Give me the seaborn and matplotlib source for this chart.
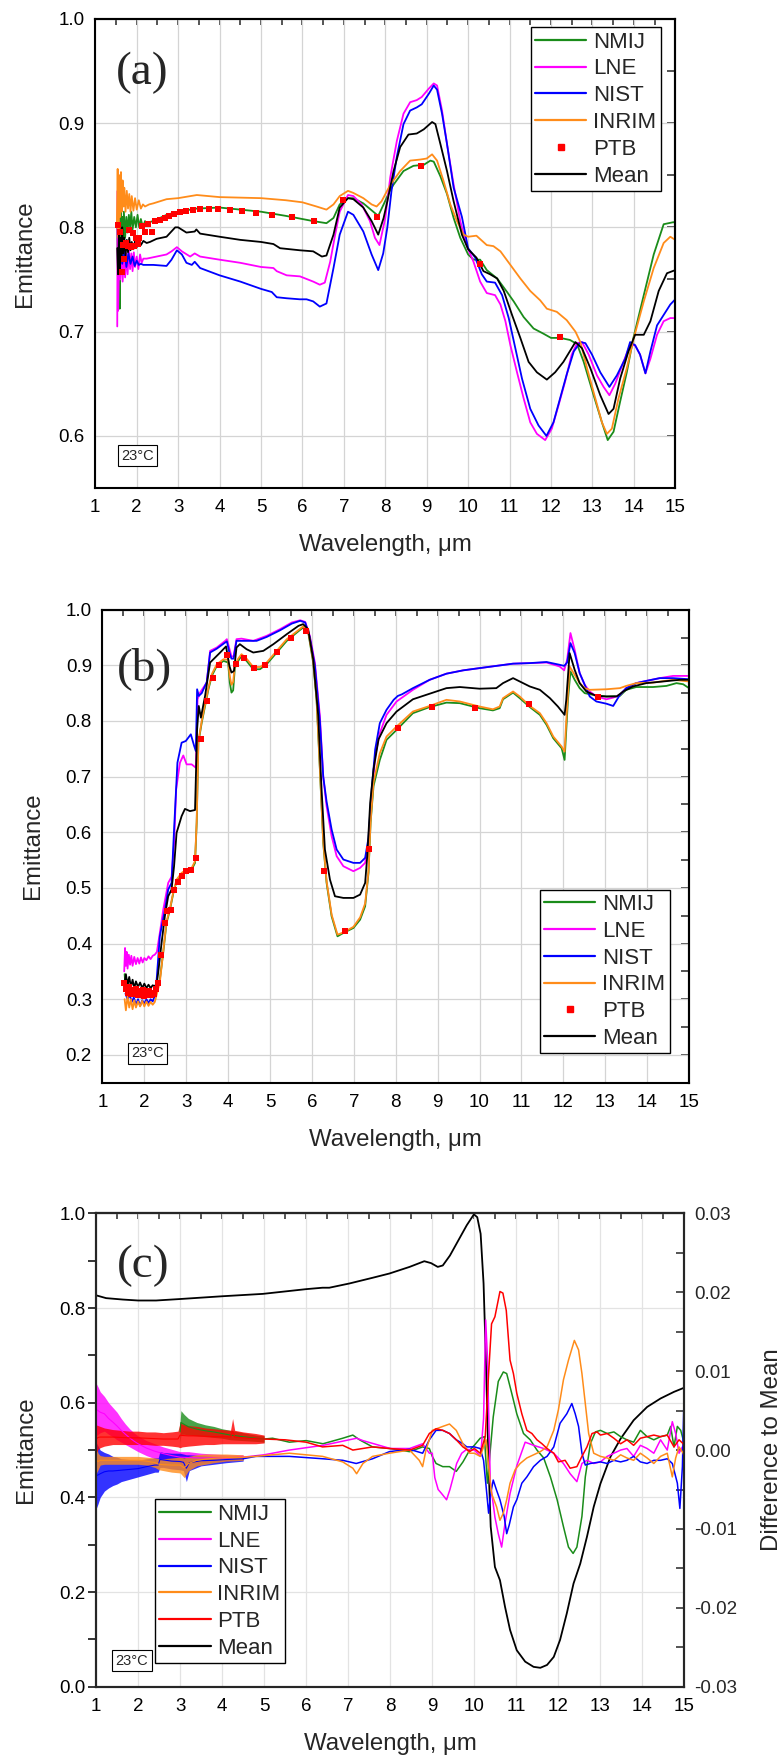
import numpy as np
import matplotlib
matplotlib.use('Agg')
import matplotlib.pyplot as plt
from matplotlib.ticker import MultipleLocator, FormatStrFormatter
from matplotlib.lines import Line2D
import seaborn as sns

sns.set_style('white')
plt.rcParams['font.family'] = ['Liberation Sans', 'DejaVu Sans']
plt.rcParams['axes.unicode_minus'] = False

SERIES = ['NMIJ', 'LNE', 'NIST', 'INRIM', 'PTB', 'Mean']
COLORS = {'NMIJ': '#1a8c1a', 'LNE': '#ff00ff', 'NIST': '#0000ff',
          'INRIM': '#ff8c1a', 'PTB': '#ff0000', 'Mean': '#000000'}
TEMP_LABEL = '23°C'
X_LABEL = 'Wavelength, μm'
Y_LABEL = 'Emittance'
Y2_LABEL = 'Difference to Mean'

# ---------------- Panel (a) ----------------
A_NMIJ_X = [1.53,1.55,1.57,1.59,1.61,1.63,1.65,1.67,1.69,1.72,1.75,1.78,1.81,1.84,1.87,1.90,1.94,1.98,2.02,2.06,2.10,2.15,2.20,2.25,2.30,2.40,
            2.72,3.00,3.45,4.00,4.50,5.00,5.60,6.26,6.58,6.75,6.90,7.10,7.23,7.47,7.71,7.83,7.96,8.11,8.20,8.44,8.68,8.93,9.09,9.17,9.33,9.49,9.65,9.81,10.00,10.13,
            10.29,10.45,10.70,10.94,11.10,11.34,11.58,11.82,12.00,12.22,12.46,12.63,12.79,13.03,13.23,13.37,13.51,13.67,13.83,13.99,14.24,14.48,14.72,14.96,15.00]
A_NMIJ_Y = [0.800,0.740,0.810,0.722,0.820,0.770,0.810,0.780,0.815,0.790,0.810,0.795,0.812,0.800,0.815,0.798,0.810,0.800,0.812,0.800,0.808,0.800,0.806,0.803,0.805,0.806,
            0.812,0.815,0.818,0.819,0.817,0.815,0.811,0.806,0.804,0.809,0.822,0.828,0.828,0.823,0.815,0.811,0.822,0.835,0.841,0.854,0.859,0.860,0.864,0.863,0.849,0.832,0.809,0.790,0.774,0.769,
            0.769,0.759,0.751,0.738,0.729,0.714,0.703,0.698,0.694,0.694,0.692,0.688,0.671,0.639,0.613,0.596,0.604,0.633,0.661,0.694,0.735,0.774,0.803,0.805,0.804]

A_INRIM_X = [1.52,1.54,1.56,1.58,1.60,1.62,1.64,1.66,1.68,1.70,1.73,1.76,1.79,1.82,1.85,1.88,1.92,1.96,2.00,2.05,2.10,2.15,2.20,2.30,2.40,
             2.72,3.00,3.45,4.00,5.00,5.60,6.00,6.34,6.58,6.75,6.90,7.10,7.23,7.47,7.67,7.79,7.91,8.11,8.36,8.60,8.84,9.00,9.13,9.25,9.41,9.57,9.73,9.89,10.00,
             10.20,10.45,10.61,10.78,11.02,11.26,11.50,11.74,11.90,12.14,12.38,12.59,12.71,12.87,13.07,13.23,13.35,13.47,13.63,13.83,14.00,14.24,14.48,14.72,14.88,15.00]
A_INRIM_Y = [0.800,0.856,0.790,0.850,0.810,0.853,0.815,0.845,0.820,0.838,0.815,0.835,0.818,0.832,0.815,0.830,0.816,0.828,0.817,0.826,0.818,0.822,0.820,0.822,0.823,
             0.827,0.828,0.831,0.829,0.828,0.826,0.824,0.820,0.817,0.822,0.830,0.835,0.833,0.828,0.822,0.820,0.825,0.840,0.854,0.864,0.865,0.866,0.870,0.864,0.844,0.822,0.806,0.793,0.791,
             0.792,0.783,0.782,0.777,0.764,0.751,0.739,0.730,0.722,0.719,0.711,0.700,0.690,0.665,0.636,0.613,0.602,0.607,0.636,0.665,0.694,0.729,0.761,0.785,0.791,0.788]

A_LNE_X = [1.53,1.54,1.55,1.57,1.60,1.63,1.66,1.69,1.72,1.75,1.78,1.81,1.84,1.87,1.90,1.93,1.96,2.00,2.04,2.08,2.12,2.16,2.24,
           2.48,2.72,2.84,2.97,3.09,3.29,3.40,3.53,4.00,4.50,5.00,5.30,5.38,5.62,5.94,6.26,6.42,6.54,6.67,6.79,6.90,7.10,7.23,7.43,7.63,7.75,7.86,8.00,8.12,8.28,
           8.44,8.60,8.76,8.88,9.05,9.17,9.25,9.37,9.49,9.65,9.81,9.97,10.13,10.29,10.45,10.65,10.78,10.90,11.02,11.18,11.34,11.50,11.66,11.86,12.02,12.18,12.34,
           12.50,12.63,12.75,12.91,13.11,13.27,13.41,13.55,13.75,13.91,14.03,14.15,14.28,14.40,14.56,14.72,14.88,15.00]
A_LNE_Y = [0.705,0.835,0.720,0.760,0.750,0.775,0.748,0.772,0.752,0.775,0.755,0.778,0.760,0.775,0.758,0.776,0.762,0.772,0.760,0.774,0.766,0.770,0.770,
           0.772,0.774,0.777,0.781,0.777,0.772,0.775,0.772,0.769,0.766,0.762,0.761,0.758,0.754,0.753,0.748,0.745,0.747,0.767,0.793,0.815,0.831,0.830,0.822,0.806,0.790,0.783,0.809,0.848,0.883,
           0.909,0.920,0.922,0.925,0.933,0.938,0.936,0.912,0.880,0.841,0.806,0.782,0.767,0.748,0.737,0.735,0.726,0.710,0.687,0.661,0.636,0.613,0.602,0.596,0.607,0.629,0.652,
           0.678,0.689,0.690,0.678,0.658,0.647,0.639,0.650,0.671,0.687,0.687,0.678,0.660,0.674,0.697,0.710,0.713,0.713]

A_NIST_X = [1.55,1.60,1.65,1.70,1.75,1.80,1.85,1.90,1.95,2.00,2.05,2.10,
            2.16,2.40,2.72,2.84,2.97,3.09,3.20,3.33,3.40,3.53,4.00,4.50,5.00,5.26,5.38,5.62,5.94,6.10,6.26,6.42,6.58,6.75,6.90,7.10,7.23,7.47,7.67,7.83,7.95,
            8.05,8.15,8.28,8.44,8.60,8.76,8.88,9.05,9.17,9.25,9.37,9.49,9.65,9.85,10.00,10.17,10.33,10.45,10.65,10.82,10.98,11.14,11.30,11.50,11.70,11.89,
            12.06,12.22,12.38,12.55,12.71,12.83,12.99,13.19,13.41,13.59,13.79,13.91,14.03,14.15,14.28,14.40,14.56,14.72,14.88,15.00]
A_NIST_Y = [0.770,0.785,0.765,0.780,0.762,0.775,0.765,0.772,0.763,0.768,0.764,0.765,
            0.764,0.764,0.763,0.769,0.778,0.774,0.766,0.764,0.767,0.761,0.754,0.748,0.741,0.738,0.733,0.732,0.731,0.731,0.729,0.724,0.727,0.761,0.793,0.815,0.812,0.796,0.774,0.759,0.775,
            0.800,0.835,0.868,0.899,0.912,0.915,0.918,0.928,0.936,0.932,0.909,0.880,0.838,0.810,0.780,0.771,0.755,0.748,0.747,0.735,0.713,0.684,0.655,0.626,0.610,0.600,
            0.613,0.636,0.659,0.681,0.690,0.689,0.678,0.661,0.647,0.658,0.674,0.690,0.687,0.678,0.660,0.681,0.706,0.716,0.726,0.731]

A_MEAN_X = [1.53,1.55,1.57,1.59,1.61,1.63,1.65,1.67,1.70,1.73,1.76,1.79,1.82,1.85,1.88,1.92,1.96,2.00,2.05,2.10,2.16,2.24,2.32,
            2.48,2.72,2.93,3.00,3.20,3.40,3.44,3.53,4.00,4.50,5.00,5.30,5.46,5.94,6.26,6.47,6.58,6.75,6.90,7.10,7.23,7.47,7.67,7.83,7.96,8.05,8.20,8.36,8.56,8.76,
            8.93,9.13,9.21,9.33,9.49,9.65,9.85,10.00,10.20,10.37,10.53,10.70,10.86,11.06,11.26,11.46,11.66,11.90,12.10,12.30,12.59,12.75,12.95,13.19,13.39,13.51,
            13.67,13.87,14.03,14.24,14.40,14.60,14.80,15.00]
A_MEAN_Y = [0.780,0.755,0.795,0.760,0.790,0.770,0.800,0.775,0.790,0.772,0.788,0.776,0.790,0.778,0.786,0.779,0.787,0.781,0.786,0.783,0.787,0.785,0.786,
            0.789,0.791,0.800,0.800,0.795,0.796,0.798,0.794,0.791,0.788,0.786,0.784,0.780,0.778,0.777,0.772,0.773,0.793,0.819,0.828,0.827,0.819,0.806,0.793,0.809,0.825,0.854,0.877,0.889,0.890,
            0.894,0.901,0.899,0.880,0.854,0.825,0.793,0.779,0.771,0.758,0.755,0.751,0.739,0.716,0.694,0.671,0.661,0.654,0.661,0.671,0.690,0.684,0.665,0.639,0.621,0.626,
            0.655,0.681,0.697,0.697,0.710,0.739,0.756,0.759]

A_PTB_X = [1.56,1.60,1.64,1.67,1.70,1.74,1.78,1.82,1.86,1.90,1.94,1.98,2.02,2.06,2.12,2.20,2.28,2.36,2.44,2.56,2.68,2.78,2.90,3.05,3.19,3.35,3.53,3.74,3.97,
           4.24,4.53,4.87,5.26,5.74,6.29,6.97,7.79,8.86,10.28,12.22]
A_PTB_Y = [0.802,0.796,0.757,0.783,0.770,0.785,0.782,0.797,0.781,0.795,0.782,0.790,0.784,0.790,0.801,0.796,0.803,0.796,0.806,0.807,0.809,0.811,0.813,0.815,0.816,0.817,0.818,0.818,0.818,
           0.817,0.816,0.814,0.812,0.810,0.806,0.826,0.810,0.859,0.765,0.695]

# ---------------- Panel (b) ----------------
B_LNE_X = [1.52,1.54,1.56,1.58,1.60,1.63,1.66,1.69,1.72,1.76,1.80,1.84,1.88,1.92,1.96,2.00,2.05,2.10,2.15,2.20,2.25,2.30,
           2.37,2.45,2.57,2.65,2.71,2.76,2.85,2.93,3.01,3.13,3.23,3.27,3.33,3.49,3.57,3.73,3.93,3.97,4.03,4.08,4.13,4.20,4.32,4.60,4.92,5.24,5.52,5.72,5.84,5.95,
           6.07,6.19,6.27,6.35,6.47,6.59,6.75,6.99,7.15,7.27,7.35,7.43,7.51,7.62,7.78,8.02,8.41,8.81,9.21,9.61,10.00,10.40,10.80,11.20,11.60,11.91,12.02,12.09,
           12.17,12.27,12.39,12.51,12.63,12.79,13.03,13.19,13.35,13.50,13.74,13.98,14.30,14.62,15.00]
B_LNE_Y = [0.350,0.392,0.360,0.385,0.355,0.380,0.362,0.378,0.360,0.376,0.363,0.374,0.364,0.375,0.366,0.374,0.370,0.377,0.372,0.378,0.380,0.385,
           0.419,0.460,0.509,0.520,0.580,0.677,0.725,0.738,0.722,0.722,0.716,0.839,0.851,0.869,0.926,0.932,0.944,0.947,0.930,0.916,0.916,0.947,0.948,0.944,0.953,0.965,0.977,0.981,0.978,0.953,
           0.905,0.809,0.700,0.647,0.593,0.557,0.539,0.530,0.536,0.545,0.581,0.665,0.737,0.778,0.811,0.835,0.856,0.874,0.885,0.891,0.895,0.899,0.903,0.904,0.905,0.898,0.891,0.910,
           0.958,0.928,0.886,0.865,0.853,0.844,0.839,0.842,0.847,0.859,0.868,0.872,0.877,0.881,0.881]

B_NIST_X = [1.55,1.60,1.65,1.70,1.75,1.80,1.85,1.90,1.95,2.00,2.05,2.10,2.15,2.20,2.27,
            2.37,2.49,2.57,2.65,2.71,2.79,2.89,2.99,3.05,3.11,3.19,3.23,3.26,3.30,3.37,3.49,3.57,3.73,3.93,3.97,4.03,4.08,4.13,4.20,4.44,4.68,4.92,5.24,5.52,
            5.72,5.84,5.95,6.07,6.19,6.27,6.35,6.47,6.59,6.75,6.99,7.15,7.27,7.35,7.43,7.51,7.62,7.78,7.95,8.05,8.15,8.41,8.81,9.21,9.61,10.00,10.40,10.80,11.20,
            11.60,11.91,12.02,12.09,12.17,12.27,12.39,12.51,12.63,12.79,13.03,13.19,13.35,13.50,13.74,13.98,14.30,14.62,15.00]
B_NIST_Y = [0.310,0.300,0.308,0.295,0.303,0.290,0.300,0.288,0.298,0.292,0.300,0.293,0.300,0.296,0.310,
            0.413,0.460,0.497,0.509,0.605,0.725,0.761,0.764,0.770,0.776,0.755,0.746,0.857,0.845,0.850,0.870,0.923,0.930,0.941,0.943,0.923,0.912,0.912,0.944,0.944,0.944,0.951,0.963,0.975,
            0.980,0.977,0.950,0.900,0.800,0.700,0.655,0.605,0.569,0.551,0.545,0.545,0.554,0.590,0.680,0.749,0.796,0.820,0.838,0.845,0.848,0.859,0.874,0.885,0.891,0.895,0.899,0.903,0.904,
            0.906,0.901,0.899,0.905,0.940,0.922,0.886,0.865,0.844,0.835,0.831,0.827,0.847,0.859,0.868,0.872,0.877,0.877,0.875]

B_MEAN_X = [1.53,1.56,1.60,1.64,1.68,1.72,1.76,1.80,1.85,1.90,1.95,2.00,2.05,2.10,2.15,2.20,2.25,2.30,
            2.33,2.41,2.49,2.57,2.65,2.71,2.77,2.89,2.97,3.09,3.21,3.26,3.30,3.35,3.45,3.57,3.69,3.81,3.95,4.03,4.08,4.14,4.20,4.28,4.44,4.60,4.84,5.08,5.40,
            5.68,5.79,5.91,6.03,6.15,6.23,6.31,6.43,6.55,6.75,6.99,7.15,7.27,7.32,7.39,7.47,7.59,7.78,8.02,8.18,8.41,8.81,9.21,9.53,10.00,10.40,10.56,10.80,
            10.96,11.20,11.44,11.68,11.87,12.03,12.07,12.15,12.27,12.39,12.55,12.79,13.03,13.27,13.43,13.66,13.98,14.38,14.78,15.00]
B_MEAN_Y = [0.330,0.345,0.325,0.340,0.322,0.335,0.320,0.332,0.322,0.330,0.320,0.328,0.320,0.326,0.320,0.325,0.323,0.330,
            0.347,0.400,0.449,0.485,0.497,0.539,0.599,0.629,0.642,0.638,0.640,0.785,0.827,0.806,0.845,0.905,0.914,0.923,0.934,0.899,0.887,0.890,0.932,0.938,0.929,0.923,0.926,0.938,0.956,
            0.971,0.974,0.965,0.911,0.810,0.677,0.569,0.515,0.485,0.482,0.482,0.488,0.509,0.557,0.653,0.713,0.767,0.796,0.817,0.826,0.839,0.849,0.859,0.861,0.858,0.859,0.868,0.877,
            0.871,0.862,0.856,0.841,0.826,0.811,0.838,0.922,0.892,0.868,0.853,0.845,0.844,0.844,0.853,0.862,0.868,0.871,0.874,0.874]

B_NMIJ_X = [1.53,1.56,1.60,1.64,1.68,1.72,1.76,1.80,1.85,1.90,1.95,2.00,2.05,2.10,2.15,2.20,2.25,2.30,
            2.37,2.45,2.53,2.61,2.69,2.77,2.89,3.01,3.13,3.21,3.25,3.29,3.37,3.45,3.53,3.61,3.73,3.89,4.00,4.04,4.08,4.12,4.16,4.24,4.32,4.44,4.60,4.76,4.92,
            5.16,5.40,5.64,5.79,5.91,6.03,6.11,6.19,6.27,6.35,6.47,6.61,6.75,6.99,7.15,7.27,7.35,7.40,7.47,7.62,7.78,8.02,8.41,8.81,9.21,9.53,10.00,10.32,10.48,
            10.56,10.80,10.96,11.20,11.44,11.60,11.76,11.96,12.03,12.11,12.17,12.27,12.39,12.51,12.71,13.03,13.35,13.50,13.74,14.14,14.46,14.70,14.86,15.00]
B_NMIJ_Y = [0.345,0.315,0.335,0.310,0.325,0.305,0.318,0.305,0.315,0.303,0.312,0.305,0.313,0.305,0.310,0.307,0.312,0.320,
            0.335,0.383,0.437,0.460,0.490,0.512,0.524,0.530,0.533,0.545,0.617,0.761,0.797,0.827,0.857,0.881,0.899,0.908,0.905,0.869,0.851,0.855,0.895,0.908,0.917,0.908,0.893,0.893,0.902,
            0.923,0.944,0.959,0.968,0.960,0.905,0.839,0.713,0.581,0.509,0.449,0.413,0.419,0.428,0.443,0.467,0.527,0.617,0.683,0.730,0.766,0.784,0.814,0.825,0.833,0.832,0.823,0.819,0.823,
            0.839,0.851,0.841,0.825,0.811,0.793,0.769,0.751,0.730,0.838,0.889,0.874,0.859,0.850,0.847,0.844,0.845,0.856,0.861,0.861,0.863,0.868,0.866,0.859]

B_INRIM_X = [1.53,1.56,1.60,1.64,1.68,1.72,1.76,1.80,1.85,1.90,1.95,2.00,2.05,2.10,2.15,2.20,2.25,2.30,
             2.37,2.45,2.53,2.61,2.69,2.77,2.89,3.01,3.13,3.21,3.25,3.29,3.37,3.45,3.53,3.61,3.73,3.89,4.00,4.04,4.08,4.12,4.16,4.24,4.32,4.44,4.60,4.76,4.92,
             5.16,5.40,5.64,5.79,5.91,6.03,6.11,6.19,6.27,6.35,6.47,6.61,6.75,6.99,7.15,7.27,7.35,7.40,7.47,7.62,7.78,8.02,8.41,8.81,9.21,9.53,10.00,10.32,10.48,
             10.56,10.80,10.96,11.20,11.44,11.60,11.76,11.96,12.03,12.07,12.15,12.27,12.39,12.51,12.63,13.03,13.35,13.50,13.74,14.14,14.62,15.00]
B_INRIM_Y = [0.300,0.280,0.305,0.285,0.300,0.282,0.298,0.285,0.296,0.287,0.297,0.287,0.296,0.288,0.295,0.290,0.295,0.310,
             0.330,0.385,0.440,0.462,0.492,0.515,0.527,0.533,0.536,0.548,0.620,0.763,0.800,0.830,0.860,0.884,0.902,0.911,0.910,0.880,0.865,0.870,0.900,0.912,0.920,0.912,0.897,0.897,0.905,
             0.926,0.947,0.961,0.970,0.962,0.908,0.842,0.716,0.584,0.512,0.452,0.416,0.420,0.430,0.447,0.472,0.530,0.620,0.690,0.742,0.772,0.790,0.817,0.827,0.838,0.835,0.826,0.821,0.826,
             0.841,0.853,0.844,0.827,0.814,0.796,0.772,0.754,0.745,0.800,0.898,0.883,0.868,0.859,0.856,0.857,0.859,0.863,0.868,0.869,0.874,0.871]

B_PTB_X = [1.52,1.56,1.60,1.64,1.68,1.72,1.76,1.80,1.84,1.88,1.92,1.96,2.00,2.04,2.08,2.12,2.16,2.20,2.24,2.28,2.32,
           2.41,2.49,2.55,2.63,2.71,2.81,2.89,2.99,3.11,3.23,3.35,3.50,3.65,3.79,3.98,4.18,4.38,4.62,4.87,5.16,5.49,5.85,6.29,6.79,7.37,8.06,8.87,9.90,11.18,12.83]
B_PTB_Y = [0.329,0.318,0.312,0.322,0.309,0.316,0.310,0.318,0.307,0.314,0.309,0.316,0.306,0.313,0.308,0.315,0.307,0.312,0.310,0.318,0.330,
           0.380,0.437,0.458,0.460,0.497,0.510,0.521,0.530,0.532,0.554,0.768,0.836,0.877,0.900,0.918,0.902,0.913,0.895,0.900,0.924,0.950,0.962,0.530,0.422,0.570,0.787,0.825,0.823,0.830,0.843]

# ---------------- Panel (c) ----------------
C_MEAN_X = [1.00,1.24,1.64,2.00,2.43,2.98,4.01,4.97,6.00,6.39,6.55,7.03,7.58,7.98,8.46,8.81,8.97,9.13,9.25,9.42,9.62,9.82,9.99,10.07,10.15,10.22,10.28,10.34,
            10.39,10.49,10.61,10.73,10.85,11.01,11.21,11.41,11.57,11.73,11.89,12.04,12.20,12.36,12.52,12.68,12.84,13.00,13.24,13.48,13.79,14.11,14.43,14.75,15.00]
C_MEAN_Y = [0.827,0.821,0.818,0.816,0.816,0.819,0.825,0.830,0.840,0.843,0.843,0.852,0.864,0.873,0.887,0.899,0.895,0.887,0.890,0.911,0.943,0.975,0.998,0.992,0.957,0.852,0.676,0.464,
            0.338,0.253,0.225,0.169,0.120,0.077,0.053,0.042,0.040,0.046,0.063,0.099,0.155,0.218,0.260,0.317,0.380,0.429,0.486,0.524,0.563,0.591,0.609,0.623,0.632]

# noisy short-wavelength parts of the difference curves: lower / upper edge of the noise band
C_NMIJ_BX = [3.00,3.02,3.10,3.20,3.40,3.60,3.80,4.00,4.20,4.50,4.80,5.00]
C_NMIJ_BHI = [0.0036,0.0050,0.0045,0.0040,0.0035,0.0032,0.0030,0.0027,0.0025,0.0022,0.0019,0.0018]
C_NMIJ_BLO = [0.0010,0.0020,0.0020,0.0019,0.0018,0.0017,0.0016,0.0015,0.0013,0.0012,0.0011,0.0010]

C_LNE_BX = [1.00,1.05,1.10,1.20,1.30,1.40,1.50,1.60,1.70,1.80,1.90,2.00,2.20,2.40,2.60,2.80,3.00,3.20,3.50,3.80,4.10,4.50]
C_LNE_BHI = [0.0085,0.0080,0.0074,0.0068,0.0060,0.0054,0.0048,0.0040,0.0033,0.0027,0.0022,0.0018,0.0012,0.0008,0.0004,0.0001,-0.0002,-0.0002,-0.0004,-0.0005,-0.0006,-0.0006]
C_LNE_BLO = [0.0018,0.0020,0.0022,0.0024,0.0020,0.0017,0.0013,0.0010,0.0007,0.0004,0.0001,-0.0002,-0.0007,-0.0011,-0.0013,-0.0015,-0.0016,-0.0017,-0.0016,-0.0015,-0.0014,-0.0012]

C_NIST_BX = [1.00,1.05,1.10,1.20,1.30,1.40,1.50,1.60,1.80,2.00,2.20,2.40,2.48,2.52,2.60,2.80,3.00,3.08,3.15,3.22,3.50,3.80,4.10,4.50]
C_NIST_BHI = [0.0010,0.0005,0.0000,-0.0003,-0.0005,-0.0008,-0.0009,-0.0011,-0.0012,-0.0013,-0.0011,-0.0010,-0.0010,-0.0002,-0.0003,-0.0004,-0.0004,-0.0005,-0.0006,-0.0006,-0.0007,-0.0008,-0.0008,-0.0008]
C_NIST_BLO = [-0.0075,-0.0068,-0.0060,-0.0052,-0.0048,-0.0045,-0.0043,-0.0040,-0.0037,-0.0034,-0.0031,-0.0028,-0.0028,-0.0022,-0.0022,-0.0024,-0.0025,-0.0026,-0.0040,-0.0026,-0.0020,-0.0018,-0.0016,-0.0014]

C_INRIM_BX = [1.00,1.05,1.10,1.20,1.40,1.60,1.80,2.00,2.20,2.40,2.50,2.60,2.80,3.00,3.10,3.20,3.40,3.60,3.80,4.10,4.50]
C_INRIM_BHI = [0.0005,-0.0004,-0.0007,-0.0008,-0.0008,-0.0008,-0.0008,-0.0008,-0.0009,-0.0010,-0.0011,-0.0011,-0.0010,-0.0009,-0.0010,-0.0008,-0.0006,-0.0005,-0.0005,-0.0005,-0.0006]
C_INRIM_BLO = [-0.0030,-0.0025,-0.0019,-0.0018,-0.0018,-0.0018,-0.0018,-0.0018,-0.0019,-0.0022,-0.0025,-0.0026,-0.0028,-0.0029,-0.0035,-0.0026,-0.0020,-0.0018,-0.0016,-0.0014,-0.0013]

C_PTB_BX = [1.00,1.05,1.10,1.20,1.30,1.40,1.60,1.80,2.00,2.20,2.40,2.60,2.80,2.95,3.00,3.05,3.20,3.40,3.60,3.80,4.00,4.20,4.25,4.30,4.50,4.80,5.00]
C_PTB_BHI = [0.0032,0.0031,0.0030,0.0028,0.0027,0.0026,0.0025,0.0024,0.0024,0.0023,0.0023,0.0022,0.0023,0.0024,0.0035,0.0033,0.0031,0.0030,0.0028,0.0027,0.0026,0.0025,0.0040,0.0025,0.0023,0.0021,0.0019]
C_PTB_BLO = [-0.0004,0.0001,0.0003,0.0005,0.0006,0.0007,0.0007,0.0007,0.0007,0.0007,0.0006,0.0006,0.0005,0.0004,0.0003,0.0004,0.0005,0.0006,0.0007,0.0007,0.0008,0.0008,0.0008,0.0008,0.0008,0.0008,0.0009]

# smoother longer-wavelength parts of the difference curves
C_NMIJ_DX = [5.00,5.20,5.60,6.00,6.40,6.87,7.11,7.27,7.58,7.98,8.46,8.77,8.93,9.00,9.09,9.25,9.41,9.57,9.73,9.89,10.00,10.14,10.24,10.31,10.38,10.45,10.57,10.69,10.77,10.89,
             11.01,11.17,11.33,11.49,11.65,11.81,11.97,12.12,12.24,12.35,12.44,12.56,12.64,12.76,12.88,13.00,13.16,13.32,13.48,13.63,13.79,13.95,14.11,14.27,14.43,14.59,14.67,14.75,14.83,14.91,
             14.97,15.00]
C_NMIJ_DY = [0.0014,0.0015,0.0010,0.0012,0.0008,0.0015,0.0019,0.0013,0.0004,0.0002,-0.0002,0.0004,0.0002,-0.0008,-0.0017,-0.0021,-0.0021,-0.0027,-0.0015,0.0000,0.0006,0.0015,0.0017,-0.0042,0.0000,0.0042,0.0087,0.0099,0.0097,0.0072,
             0.0046,0.0021,0.0013,0.0000,-0.0010,-0.0034,-0.0063,-0.0097,-0.0123,-0.0131,-0.0123,-0.0084,-0.0034,0.0008,0.0023,0.0025,0.0021,0.0023,0.0017,0.0013,0.0010,0.0025,0.0017,0.0013,0.0017,0.0019,0.0030,0.0004,0.0030,0.0025,
             0.0013,0.0000]

C_LNE_DX = [4.50,5.00,5.60,6.40,7.20,7.35,8.00,8.46,8.77,8.93,9.00,9.06,9.14,9.22,9.34,9.42,9.50,9.58,9.70,9.82,10.00,10.15,10.22,10.27,10.31,10.38,10.49,10.57,10.65,10.73,
            10.85,11.01,11.21,11.41,11.65,11.89,12.12,12.28,12.44,12.56,12.68,12.84,13.00,13.16,13.32,13.48,13.63,13.79,13.95,14.11,14.27,14.43,14.59,14.71,14.79,14.87,14.95,15.00]
C_LNE_DY = [-0.0009,-0.0006,0.0000,0.0006,0.0015,0.0012,0.0002,0.0002,0.0008,-0.0004,-0.0004,-0.0035,-0.0050,-0.0055,-0.0063,-0.0050,-0.0034,-0.0017,-0.0004,0.0001,0.0000,-0.0008,0.0040,0.0165,0.0120,-0.0040,-0.0085,-0.0106,-0.0123,-0.0093,
            -0.0055,-0.0020,0.0010,0.0006,0.0002,-0.0004,-0.0017,-0.0030,-0.0040,-0.0017,-0.0013,-0.0017,-0.0015,-0.0008,-0.0004,0.0000,0.0002,-0.0008,0.0006,0.0002,-0.0004,0.0013,0.0000,0.0036,0.0021,-0.0004,0.0004,0.0000]

C_NIST_DX = [4.50,4.80,5.60,6.39,6.87,7.19,7.58,7.98,8.46,8.77,8.93,9.09,9.25,9.41,9.57,9.73,9.82,10.00,10.14,10.22,10.28,10.34,10.39,10.45,10.53,10.61,10.71,10.77,10.83,10.93,
             11.01,11.13,11.25,11.41,11.57,11.73,11.89,12.04,12.20,12.32,12.40,12.48,12.56,12.64,12.76,13.00,13.16,13.32,13.48,13.63,13.79,13.95,14.11,14.27,14.43,14.59,14.71,14.83,14.89,14.95,
             15.00]
C_NIST_DY = [-0.0011,-0.0008,-0.0008,-0.0011,-0.0013,-0.0017,-0.0011,-0.0002,0.0001,-0.0004,0.0013,0.0025,0.0025,0.0021,0.0013,0.0008,0.0004,0.0004,0.0002,-0.0013,-0.0046,-0.0080,-0.0055,-0.0038,-0.0051,-0.0063,-0.0084,-0.0106,-0.0095,-0.0072,
             -0.0063,-0.0042,-0.0034,-0.0021,-0.0013,-0.0008,0.0004,0.0034,0.0046,0.0059,0.0046,0.0030,-0.0004,-0.0019,-0.0017,-0.0015,-0.0017,-0.0013,-0.0015,-0.0013,-0.0008,-0.0015,-0.0017,-0.0013,-0.0013,-0.0011,-0.0017,-0.0042,-0.0074,-0.0021,
             0.0093]

C_INRIM_DX = [4.50,4.80,5.60,6.39,6.87,7.11,7.20,7.35,7.58,7.98,8.46,8.69,8.77,8.85,9.00,9.25,9.41,9.57,9.73,9.89,10.00,10.14,10.22,10.28,10.34,10.41,10.53,10.61,10.69,10.77,
              10.85,10.97,11.09,11.25,11.41,11.57,11.73,11.89,12.00,12.12,12.24,12.38,12.48,12.56,12.64,12.72,12.84,13.00,13.16,13.32,13.48,13.63,13.79,13.95,14.11,14.27,14.43,14.59,14.71,14.79,
              14.87,14.97,15.00]
C_INRIM_DY = [-0.0009,-0.0008,-0.0004,-0.0008,-0.0015,-0.0023,-0.0030,-0.0017,-0.0008,-0.0004,0.0000,-0.0013,-0.0021,0.0000,0.0025,0.0030,0.0033,0.0025,0.0008,-0.0004,-0.0004,-0.0008,0.0004,0.0013,-0.0021,-0.0055,-0.0072,-0.0089,-0.0080,-0.0063,
              -0.0042,-0.0025,-0.0017,-0.0010,-0.0006,-0.0002,0.0004,0.0025,0.0051,0.0089,0.0114,0.0139,0.0127,0.0097,0.0059,0.0021,-0.0004,-0.0008,-0.0010,-0.0013,-0.0006,-0.0010,-0.0013,-0.0004,-0.0010,-0.0017,-0.0008,-0.0004,-0.0034,-0.0010,
              0.0004,-0.0004,-0.0010]

C_PTB_DX = [5.00,5.50,6.00,6.39,6.87,7.11,7.58,7.98,8.46,8.77,8.93,9.09,9.25,9.41,9.57,9.73,9.89,10.00,10.14,10.26,10.34,10.41,10.49,10.61,10.68,10.76,10.85,10.93,11.01,11.13,
            11.25,11.37,11.49,11.61,11.73,11.89,12.00,12.16,12.28,12.44,12.56,12.68,12.80,12.92,13.00,13.16,13.32,13.48,13.63,13.79,13.95,14.11,14.27,14.43,14.59,14.75,14.87,14.97,15.00]
C_PTB_DY = [0.0014,0.0013,0.0010,0.0004,0.0006,0.0000,0.0004,0.0002,0.0000,0.0006,0.0021,0.0027,0.0025,0.0021,0.0013,0.0004,-0.0002,0.0002,-0.0004,0.0017,0.0097,0.0160,0.0169,0.0201,0.0199,0.0177,0.0114,0.0097,0.0072,0.0046,
            0.0025,0.0021,0.0013,0.0008,0.0002,-0.0004,-0.0015,-0.0013,-0.0023,-0.0021,-0.0008,0.0004,0.0021,0.0023,0.0019,0.0021,0.0015,0.0008,0.0013,0.0006,0.0015,0.0017,0.0019,0.0017,0.0019,0.0004,0.0013,0.0008,0.0000]

# ---------------- drawing ----------------
fig = plt.figure(figsize=(7.83, 17.55), dpi=100)

LW = 1.3
TICK_FS = 13.5
LABEL_FS = 17.3
LEG_FS = 16


def draw_line(ax, x, y, name, lw=LW, z=2):
    sns.lineplot(x=np.asarray(x, float), y=np.asarray(y, float), ax=ax, color=COLORS[name],
                 linewidth=lw, sort=False, estimator=None, legend=False, zorder=z)


def draw_band(ax, x, lo, hi, name):
    xs = np.concatenate([np.asarray(x, float), np.asarray(x, float)])
    ys = np.concatenate([np.asarray(lo, float), np.asarray(hi, float)])
    sns.lineplot(x=xs, y=ys, ax=ax, color=COLORS[name], estimator='mean', errorbar=('pi', 100),
                 err_kws={'alpha': 0.8, 'linewidth': 0}, linewidth=0.8, legend=False)


def draw_markers(ax, x, y):
    sns.scatterplot(x=np.asarray(x, float), y=np.asarray(y, float), ax=ax, color=COLORS['PTB'],
                    marker='s', s=16, linewidth=0, legend=False, zorder=6)


def style(ax, ylim, ymaj, ymin, fmt, right_mirror=True, grid_color='#d4d4d4'):
    ax.set_xlim(1, 15)
    ax.set_ylim(*ylim)
    ax.xaxis.set_major_locator(MultipleLocator(1))
    ax.xaxis.set_minor_locator(MultipleLocator(0.5))
    ax.yaxis.set_major_locator(MultipleLocator(ymaj))
    ax.yaxis.set_minor_locator(MultipleLocator(ymin))
    ax.yaxis.set_major_formatter(FormatStrFormatter(fmt))
    ax.tick_params(axis='both', which='both', direction='out', width=1.1, length=6,
                   labelsize=TICK_FS, top=False, right=False, colors='black')
    ax.tick_params(axis='x', pad=2)
    ax.tick_params(axis='y', pad=1.5)
    for s in ax.spines.values():
        s.set_linewidth(1.5)
        s.set_color('black')
    ax.grid(True, which='major', color=grid_color, lw=0.9)
    ax.set_axisbelow(True)
    top = ax.secondary_xaxis('top')
    top.xaxis.set_major_locator(MultipleLocator(1))
    top.xaxis.set_minor_locator(MultipleLocator(0.5))
    top.tick_params(which='both', direction='in', length=4.5, width=1.1, labeltop=False)
    top.spines['top'].set_linewidth(1.5)
    if right_mirror:
        r = ax.secondary_yaxis('right')
        r.yaxis.set_major_locator(MultipleLocator(ymaj))
        r.yaxis.set_minor_locator(MultipleLocator(ymin))
        r.tick_params(which='both', direction='in', length=6, width=1.1, labelright=False)
        r.spines['right'].set_linewidth(1.5)
    ax.set_xlabel(X_LABEL, fontsize=LABEL_FS, labelpad=13)
    ax.set_ylabel(Y_LABEL, fontsize=LABEL_FS, labelpad=16)


def add_legend(ax, anchor, ptb_marker=True):
    handles = []
    for n in SERIES:
        if n == 'PTB' and ptb_marker:
            handles.append(Line2D([], [], color=COLORS[n], marker='s', linestyle='none', markersize=4.5))
        else:
            handles.append(Line2D([], [], color=COLORS[n], lw=1.6))
    leg = ax.legend(handles, SERIES, loc='upper left', bbox_to_anchor=anchor, borderaxespad=0,
                    frameon=True, fancybox=False, framealpha=1, edgecolor='black',
                    fontsize=LEG_FS, handlelength=2.3, handletextpad=0.3, labelspacing=0.26,
                    borderpad=0.2)
    leg.get_frame().set_linewidth(1.0)
    leg.set_zorder(20)
    return leg


def temp_box(ax, x, y):
    ax.text(x, y, TEMP_LABEL, transform=ax.transAxes, ha='center', va='center', fontsize=10.5,
            zorder=25, bbox=dict(boxstyle='square,pad=0.25', fc='white', ec='black', lw=0.8))


def panel_tag(ax, x, y, s):
    ax.text(x, y, s, transform=ax.transAxes, ha='left', va='center', fontsize=34,
            family=['Liberation Serif', 'DejaVu Serif'], zorder=25)


# Panel (a)
axA = fig.add_axes([0.1217, 0.7219, 0.7407, 0.2674])
draw_line(axA, A_NMIJ_X, A_NMIJ_Y, 'NMIJ')
draw_line(axA, A_LNE_X, A_LNE_Y, 'LNE')
draw_line(axA, A_NIST_X, A_NIST_Y, 'NIST')
draw_line(axA, A_INRIM_X, A_INRIM_Y, 'INRIM')
draw_line(axA, A_MEAN_X, A_MEAN_Y, 'Mean', z=3)
draw_markers(axA, A_PTB_X, A_PTB_Y)
style(axA, (0.55, 1.0), 0.1, 0.05, '%.1f')
add_legend(axA, (0.751, 0.982))
temp_box(axA, 0.0728, 0.069)
panel_tag(axA, 0.035, 0.885, '(a)')

# Panel (b)
axB = fig.add_axes([0.1308, 0.3831, 0.7492, 0.2695])
draw_line(axB, B_NMIJ_X, B_NMIJ_Y, 'NMIJ')
draw_line(axB, B_LNE_X, B_LNE_Y, 'LNE')
draw_line(axB, B_NIST_X, B_NIST_Y, 'NIST')
draw_line(axB, B_INRIM_X, B_INRIM_Y, 'INRIM')
draw_line(axB, B_MEAN_X, B_MEAN_Y, 'Mean', z=3)
draw_markers(axB, B_PTB_X, B_PTB_Y)
style(axB, (0.15, 1.0), 0.1, 0.05, '%.1f')
add_legend(axB, (0.7455, 0.408))
temp_box(axB, 0.0768, 0.0624)
panel_tag(axB, 0.024, 0.875, '(b)')

# Panel (c)
axC = fig.add_axes([0.1226, 0.0389, 0.7516, 0.2697])
draw_line(axC, C_MEAN_X, C_MEAN_Y, 'Mean', z=3)
style(axC, (0.0, 1.0), 0.2, 0.1, '%.1f', right_mirror=False, grid_color='#e3e3e3')
axC2 = axC.twinx()
draw_band(axC2, C_NMIJ_BX, C_NMIJ_BLO, C_NMIJ_BHI, 'NMIJ')
draw_line(axC2, C_NMIJ_DX, C_NMIJ_DY, 'NMIJ', lw=1.1)
draw_band(axC2, C_LNE_BX, C_LNE_BLO, C_LNE_BHI, 'LNE')
draw_line(axC2, C_LNE_DX, C_LNE_DY, 'LNE', lw=1.1)
draw_band(axC2, C_NIST_BX, C_NIST_BLO, C_NIST_BHI, 'NIST')
draw_line(axC2, C_NIST_DX, C_NIST_DY, 'NIST', lw=1.1)
draw_band(axC2, C_INRIM_BX, C_INRIM_BLO, C_INRIM_BHI, 'INRIM')
draw_line(axC2, C_INRIM_DX, C_INRIM_DY, 'INRIM', lw=1.1)
draw_band(axC2, C_PTB_BX, C_PTB_BLO, C_PTB_BHI, 'PTB')
draw_line(axC2, C_PTB_DX, C_PTB_DY, 'PTB', lw=1.1)
axC2.set_xlim(1, 15)
axC2.set_ylim(-0.03, 0.03)
axC2.yaxis.set_major_locator(MultipleLocator(0.01))
axC2.yaxis.set_minor_locator(MultipleLocator(0.005))
axC2.yaxis.set_major_formatter(FormatStrFormatter('%.2f'))
axC2.tick_params(axis='y', which='both', direction='in', length=6, width=1.1, labelsize=TICK_FS, pad=7)
for s in axC2.spines.values():
    s.set_linewidth(1.5)
axC2.set_ylabel(Y2_LABEL, fontsize=LABEL_FS, labelpad=17)
axC2.set_xlabel('')
add_legend(axC2, (0.1003, 0.396), ptb_marker=False)
temp_box(axC2, 0.0608, 0.0553)
panel_tag(axC2, 0.035, 0.889, '(c)')

fig.savefig('out.png', dpi=100)
